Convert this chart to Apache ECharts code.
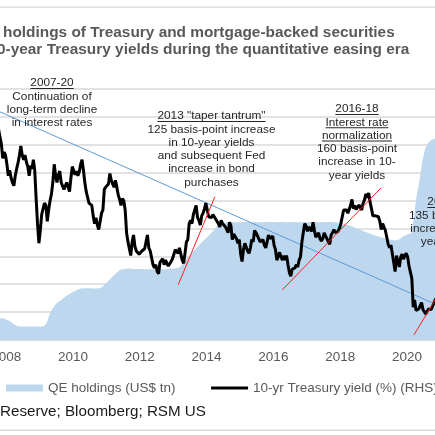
<!DOCTYPE html>
<html>
<head>
<meta charset="utf-8">
<script src="https://cdn.jsdelivr.net/npm/echarts@6/dist/echarts.min.js"></script>
<style>
  html, body { margin: 0; padding: 0; background: #fff; }
  #chart { width: 435px; height: 435px; }
</style>
</head>
<body>
<div id="chart"></div>
<script>
// 10-yr Treasury yield (%), two readings per month, from Oct 2007
var y2007 = [4.62, 4.45, 4.3, 3.98, 4.12, 4.05];
var y2008 = [3.85, 3.6, 3.72, 3.55, 3.45, 3.38, 3.6, 3.75, 3.88, 4.05, 4.25, 4.05, 3.95, 4.05, 3.9, 3.8, 3.6, 3.82, 3.75, 3.95, 3.72, 3.1, 2.55, 2.12];
var y2009 = [2.4, 2.75, 2.88, 3.0, 2.95, 2.6, 2.85, 3.05, 3.2, 3.45, 3.85, 3.6, 3.45, 3.62, 3.7, 3.45, 3.42, 3.3, 3.38, 3.45, 3.42, 3.25, 3.55, 3.8];
var y2010 = [3.82, 3.62, 3.7, 3.6, 3.68, 3.85, 3.95, 3.72, 3.45, 3.25, 3.22, 3.0, 3.0, 2.95, 2.72, 2.55, 2.68, 2.52, 2.42, 2.6, 2.78, 2.85, 3.3, 3.35];
var y2011 = [3.35, 3.42, 3.65, 3.5, 3.42, 3.35, 3.5, 3.35, 3.18, 3.08, 2.95, 3.1, 3.05, 2.85, 2.35, 2.15, 2.0, 1.85, 2.15, 2.3, 2.05, 1.95, 1.98, 1.88];
var y2012 = [1.92, 1.95, 1.97, 2.0, 2.15, 2.3, 2.02, 1.95, 1.8, 1.65, 1.58, 1.65, 1.5, 1.45, 1.7, 1.72, 1.78, 1.65, 1.75, 1.75, 1.62, 1.65, 1.72, 1.78];
var y2013 = [1.88, 1.98, 2.0, 1.9, 2.02, 1.88, 1.75, 1.68, 1.9, 2.15, 2.2, 2.55, 2.62, 2.55, 2.75, 2.85, 2.95, 2.68, 2.62, 2.52, 2.72, 2.78, 2.88, 3.0];
var y2014 = [2.85, 2.7, 2.72, 2.68, 2.75, 2.72, 2.65, 2.68, 2.55, 2.48, 2.62, 2.55, 2.52, 2.48, 2.42, 2.35, 2.58, 2.5, 2.2, 2.32, 2.35, 2.22, 2.12, 2.2];
var y2015 = [1.88, 1.72, 1.98, 2.12, 2.12, 1.95, 1.9, 2.02, 2.2, 2.15, 2.4, 2.35, 2.38, 2.22, 2.15, 2.18, 2.2, 2.08, 2.02, 2.15, 2.3, 2.22, 2.25, 2.28];
var y2016 = [2.08, 1.98, 1.75, 1.75, 1.92, 1.82, 1.75, 1.85, 1.75, 1.85, 1.65, 1.48, 1.4, 1.55, 1.55, 1.58, 1.65, 1.6, 1.75, 1.82, 2.15, 2.35, 2.55, 2.5];
var y2017 = [2.38, 2.48, 2.45, 2.38, 2.58, 2.4, 2.25, 2.3, 2.35, 2.22, 2.17, 2.22, 2.35, 2.28, 2.22, 2.15, 2.1, 2.3, 2.35, 2.42, 2.35, 2.35, 2.38, 2.45];
var y2018 = [2.55, 2.7, 2.85, 2.88, 2.85, 2.78, 2.82, 2.95, 3.08, 2.88, 2.95, 2.86, 2.85, 2.96, 2.9, 2.85, 3.0, 3.07, 3.2, 3.12, 3.22, 3.02, 2.88, 2.72];
var y2019 = [2.7, 2.72, 2.68, 2.7, 2.6, 2.42, 2.55, 2.55, 2.4, 2.25, 2.1, 2.02, 2.08, 2.06, 1.7, 1.5, 1.85, 1.72, 1.6, 1.82, 1.88, 1.77, 1.85, 1.9];
var y2020 = [1.82, 1.62, 1.58, 1.35, 0.72, 0.88, 0.65, 0.62, 0.68, 0.67, 0.82, 0.67, 0.62, 0.57, 0.55, 0.68, 0.68, 0.67, 0.75, 0.82, 0.9, 0.86, 0.92, 0.93];

// QE holdings (US$ tn), monthly, from Oct 2007
var qe2007 = [0.78, 0.78, 0.75];
var qe2008 = [0.72, 0.66, 0.58, 0.52, 0.49, 0.48, 0.48, 0.48, 0.48, 0.48, 0.48, 0.48];
var qe2009 = [0.48, 0.49, 0.6, 0.9, 1.1, 1.25, 1.35, 1.42, 1.5, 1.58, 1.63, 1.7];
var qe2010 = [1.75, 1.8, 1.84, 1.86, 1.86, 1.86, 1.86, 1.85, 1.85, 1.86, 1.9, 2.0];
var qe2011 = [2.1, 2.2, 2.3, 2.4, 2.48, 2.54, 2.55, 2.56, 2.56, 2.55, 2.55, 2.55];
var qe2012 = [2.55, 2.54, 2.54, 2.54, 2.54, 2.55, 2.54, 2.54, 2.54, 2.55, 2.56, 2.56];
var qe2013 = [2.56, 2.58, 2.62, 2.74, 2.86, 2.98, 3.1, 3.2, 3.32, 3.42, 3.52, 3.62];
var qe2014 = [3.72, 3.82, 3.92, 4.05, 4.16, 4.2, 4.21, 4.22, 4.22, 4.22, 4.22, 4.22];
var qe2015 = [4.22, 4.23, 4.23, 4.22, 4.22, 4.23, 4.22, 4.22, 4.22, 4.23, 4.23, 4.22];
var qe2016 = [4.22, 4.22, 4.23, 4.23, 4.22, 4.22, 4.22, 4.23, 4.22, 4.22, 4.22, 4.22];
var qe2017 = [4.22, 4.23, 4.23, 4.22, 4.22, 4.22, 4.22, 4.23, 4.23, 4.22, 4.21, 4.2];
var qe2018 = [4.19, 4.16, 4.13, 4.1, 4.06, 4.02, 3.98, 3.94, 3.9, 3.86, 3.82, 3.78];
var qe2019 = [3.75, 3.72, 3.69, 3.66, 3.63, 3.61, 3.59, 3.58, 3.58, 3.62, 3.7, 3.76];
var qe2020 = [3.8, 3.82, 4.4, 5.2, 5.7, 6.4, 6.85, 7.05, 7.15, 7.2, 7.25, 7.3];

// trend lines drawn on the yield axis: [year, yield]
var longTrend = [[2007.814, 5.0], [2020.84, 0.79]];
var taperTrend = [[2013.15, 1.21], [2014.25, 3.14]];
var normTrend = [[2016.27, 1.1], [2019.22, 3.33]];
var covidTrend = [[2020.21, 0.11], [2021.2, 1.32]];

var xTickYears = [2008, 2010, 2012, 2014, 2016, 2018, 2020];

var qeName = 'QE holdings (US$ tn)';
var yieldName = '10-yr Treasury yield (%) (RHS)';

var titleLines = ['holdings of Treasury and mortgage-backed securities',
                  '0-year Treasury yields during the quantitative easing era'];
var sourceText = 'Reserve; Bloomberg; RSM US';

var noteLongRun = ['2007-20', 'Continuation of', 'long-term decline', 'in interest rates'];
var noteTaper = ['2013 "taper tantrum"', '125 basis-point increase', 'in 10-year yields', 'and subsequent Fed', 'increase in bond', 'purchases'];
var noteNorm = ['2016-18', 'Interest rate', 'normalization', '160 basis-point', 'increase in 10-', 'year yields'];
var noteCovid = ['2020-21', '135 basis-point', 'increase in 10-', 'year yields'];

(function () {
  var FONT = '"Liberation Sans", Arial, sans-serif';
  var startYear = 2007.75;

  // build [year, value] pairs
  var yieldData = [];
  [y2007, y2008, y2009, y2010, y2011, y2012, y2013, y2014, y2015, y2016, y2017, y2018, y2019, y2020].forEach(function (part) {
    part.forEach(function (v) {
      yieldData.push([startYear + (yieldData.length + 0.5) / 24, v]);
    });
  });
  var qeData = [];
  [qe2007, qe2008, qe2009, qe2010, qe2011, qe2012, qe2013, qe2014, qe2015, qe2016, qe2017, qe2018, qe2019, qe2020].forEach(function (part) {
    part.forEach(function (v) {
      qeData.push([startYear + (qeData.length + 0.5) / 12, v]);
    });
  });

  var chart = echarts.init(document.getElementById('chart'));

  // text measuring for the underlines
  var ctx = document.createElement('canvas').getContext('2d');
  function textWidth(text, size) {
    ctx.font = size + 'px ' + FONT;
    return ctx.measureText(text).width;
  }

  var graphics = [];
  // thin rules top and bottom
  graphics.push({ type: 'rect', z: 100, shape: { x: 0, y: 6.5, width: 435, height: 1.2 }, style: { fill: '#d9d9d9' } });
  graphics.push({ type: 'rect', z: 100, shape: { x: 0, y: 429.5, width: 435, height: 1.5 }, style: { fill: '#d9d9d9' } });

  // title
  [[3, 32.5], [-3, 49.5]].forEach(function (pos, i) {
    graphics.push({
      type: 'text', z: 100, x: pos[0], y: pos[1],
      style: { text: titleLines[i], fill: '#595959', fontSize: 15.4, fontWeight: 'bold', fontFamily: FONT, align: 'left', verticalAlign: 'middle' }
    });
  });

  // source
  graphics.push({
    type: 'text', z: 100, x: 0, y: 412,
    style: { text: sourceText, fill: '#1a1a1a', fontSize: 15.2, fontFamily: FONT, align: 'left', verticalAlign: 'middle' }
  });

  // annotations: lines, centre x, first line y, number of underlined lines
  var NOTE_SIZE = 11.8, NOTE_LH = 13.3;
  [[noteLongRun, 52, 83, 1], [noteTaper, 211.5, 116, 1], [noteNorm, 357, 109, 3], [noteCovid, 449, 202, 1]].forEach(function (n) {
    n[0].forEach(function (line, i) {
      var y = n[2] + i * NOTE_LH;
      graphics.push({
        type: 'text', z: 100, x: n[1], y: y,
        style: { text: line, fill: '#262626', fontSize: NOTE_SIZE, fontFamily: FONT, align: 'center', verticalAlign: 'middle' }
      });
      if (i < n[3]) {
        var w = textWidth(line, NOTE_SIZE);
        graphics.push({
          type: 'rect', z: 100,
          shape: { x: n[1] - w / 2, y: y + 5, width: w, height: 0.9 },
          style: { fill: '#262626' }
        });
      }
    });
  });

  function trendSeries(data, color, z) {
    return {
      type: 'line', yAxisIndex: 1, data: data, symbol: 'none', silent: true, z: z,
      lineStyle: { color: color, width: 1 }
    };
  }

  var option = {
    animation: false,
    grid: { left: 0, right: 0, top: 89, bottom: 95, outerBoundsMode: 'none' },
    xAxis: {
      type: 'value', min: 2007.814, max: 2020.84,
      axisLine: { lineStyle: { color: '#d9d9d9', width: 1.5 } },
      axisTick: { show: false },
      splitLine: { show: false },
      axisLabel: {
        customValues: xTickYears,
        color: '#595959', fontSize: 13.5, fontFamily: FONT, margin: 10,
        formatter: function (v) { return String(v); }
      }
    },
    yAxis: [
      {
        type: 'value', min: 0, max: 9, interval: 1,
        axisLabel: { show: false }, axisLine: { show: false }, axisTick: { show: false },
        splitLine: { show: true, lineStyle: { color: '#d9d9d9', width: 1.5 } }
      },
      {
        type: 'value', min: 0, max: 5.5,
        axisLabel: { show: false }, axisLine: { show: false }, axisTick: { show: false },
        splitLine: { show: false }
      }
    ],
    legend: {
      left: 6, top: 381, width: 800, itemWidth: 37, itemHeight: 7, itemGap: 34,
      padding: 0,
      textStyle: { color: '#595959', fontSize: 13.5, fontFamily: FONT },
      data: [
        { name: qeName, icon: 'rect' },
        { name: yieldName, itemStyle: { opacity: 0 }, lineStyle: { width: 3, color: '#000' } }
      ]
    },
    series: [
      {
        name: qeName, type: 'line', yAxisIndex: 0, data: qeData, symbol: 'none', z: 2,
        itemStyle: { color: '#BDD7EE' },
        lineStyle: { color: '#BDD7EE', width: 0 },
        areaStyle: { color: '#BDD7EE', opacity: 1 }
      },
      trendSeries(longTrend, '#5B9BD5', 5),
      {
        name: yieldName, type: 'line', yAxisIndex: 1, data: yieldData, symbol: 'none', z: 6,
        itemStyle: { color: '#000' },
        lineStyle: { color: '#000', width: 3 }
      },
      trendSeries(taperTrend, '#ff2020', 7),
      trendSeries(normTrend, '#ff2020', 7),
      trendSeries(covidTrend, '#ff2020', 7)
    ],
    graphic: graphics
  };

  chart.setOption(option);
}());
</script>
</body>
</html>
